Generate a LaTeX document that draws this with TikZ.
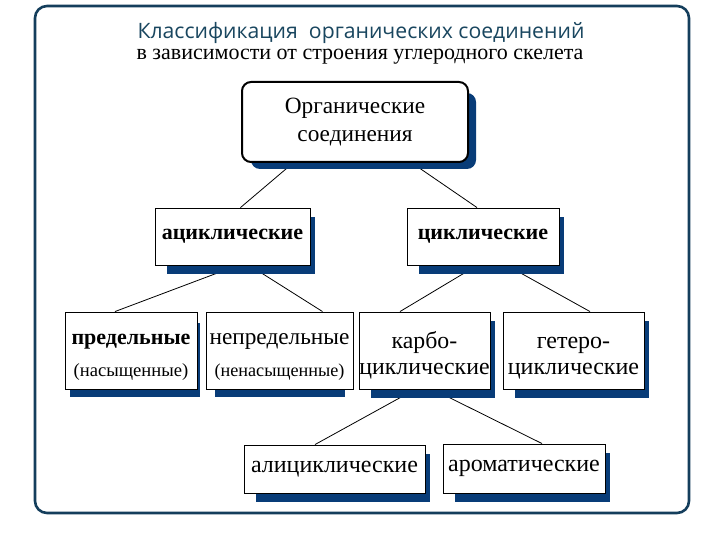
\documentclass[tikz,border=0pt]{standalone}
\usepackage{fontspec}
\setmainfont{Liberation Serif}
\newfontfamily\titlefont{Open Sans}
\usetikzlibrary{calc,backgrounds}
\definecolor{frameblue}{RGB}{20,62,92}
\definecolor{shadowblue}{RGB}{8,60,120}
\definecolor{titleteal}{RGB}{25,70,95}
\tikzset{
  box/.style={draw=black, line width=0.9pt, fill=white, inner sep=0pt, align=center, font=\fontsize{24}{28}\selectfont},
  topbox/.style={box, line width=2pt, rounded corners=9pt, font=\fontsize{23.3}{28}\selectfont},
  link/.style={draw=black, line width=0.8pt},
  titletext/.style={anchor=base, inner sep=0pt},
}
\newcommand{\shad}[1]{\fill[shadowblue] ($(#1.south west)+(12,9)$) rectangle ($(#1.north east)+(5,9)$);}
\begin{document}
\begin{tikzpicture}[x=1pt,y=-1pt]
\useasboundingbox (0,0) rectangle (720,540);
\draw[frameblue, line width=2.6pt, rounded corners=12pt] (35,6) rectangle (689,513);
\node[titletext] (t1) at (361,39) {\titlefont\fontsize{21.2}{24}\selectfont\color{titleteal}Классификация\ \ органических соединений};
\node[titletext] (t2) at (360,59.5) {\fontsize{22}{24}\selectfont в зависимости от строения углеродного скелета};

\node[topbox, minimum width=226, minimum height=80] (top) at (355,122) {Органические\\соединения};
\node[box, minimum width=155, minimum height=57, font=\fontsize{22}{26}\selectfont] (acyc) at (232.5,236.5) {\bfseries ациклические};
\node[box, minimum width=152, minimum height=57, font=\fontsize{22}{26}\selectfont] (cyc) at (483,236.5) {\bfseries циклические};
\node[box, minimum width=132, minimum height=77, font=\fontsize{22}{32}\selectfont] (pred) at (131,350.5) {\rule{0pt}{23pt}\bfseries предельные\\\fontsize{18.6}{22}\selectfont(насыщенные)};
\node[box, minimum width=147, minimum height=77, font=\fontsize{23.3}{32}\selectfont] (nepred) at (279.5,350.5) {\rule{0pt}{24pt}непредельные\\\fontsize{18.2}{22}\selectfont(ненасыщенные)};
\node[box, minimum width=131, minimum height=77, font=\fontsize{23.8}{26}\selectfont] (karbo) at (424.5,350.5) {\rule{0pt}{27pt}карбо-\\циклические};
\node[box, minimum width=141, minimum height=77, font=\fontsize{24}{26}\selectfont] (getero) at (573.5,350.5) {\rule{0pt}{27pt}гетеро-\\циклические};
\node[box, minimum width=181, minimum height=48] (ali) at (334.5,469) {алициклические};
\node[box, minimum width=162, minimum height=49] (arom) at (524,468.5) {ароматические};

\begin{pgfonlayer}{background}
\fill[white] (0,0) rectangle (720,540);
\draw[link] ($(top.south)+(-62,0)$) -- ($(acyc.north)+(8,0)$);
\draw[link] ($(top.south)+(57,0)$) -- ($(cyc.north)+(-6,0)$);
\draw[link] ($(acyc.south)+(5,0)$) -- ($(pred.north)+(-16,0)$);
\draw[link] ($(acyc.south)+(17,0)$) -- ($(nepred.north)+(43,0)$);
\draw[link] ($(cyc.south)+(-6,0)$) -- ($(karbo.north)+(-24.5,0)$);
\draw[link] ($(cyc.south)+(24,0)$) -- ($(getero.north)+(16.5,0)$);
\draw[link] ($(karbo.south)+(-9.5,0)$) -- ($(ali.north)+(-19.5,0)$);
\draw[link] ($(karbo.south)+(8.5,0)$) -- ($(arom.north)+(18,0)$);
\fill[shadowblue, rounded corners=9pt] ($(top.south west)+(10,6)$) rectangle ($(top.north east)+(7,12)$);
\shad{acyc}
\shad{cyc}
\fill[shadowblue] ($(pred.south west)+(5,8)$) rectangle ($(pred.north east)+(3,11)$);
\fill[shadowblue] ($(nepred.south west)+(9,8)$) rectangle ($(nepred.south east)+(-8,0)$);
\shad{karbo}
\shad{getero}
\shad{ali}
\shad{arom}
\end{pgfonlayer}
\end{tikzpicture}
\end{document}
